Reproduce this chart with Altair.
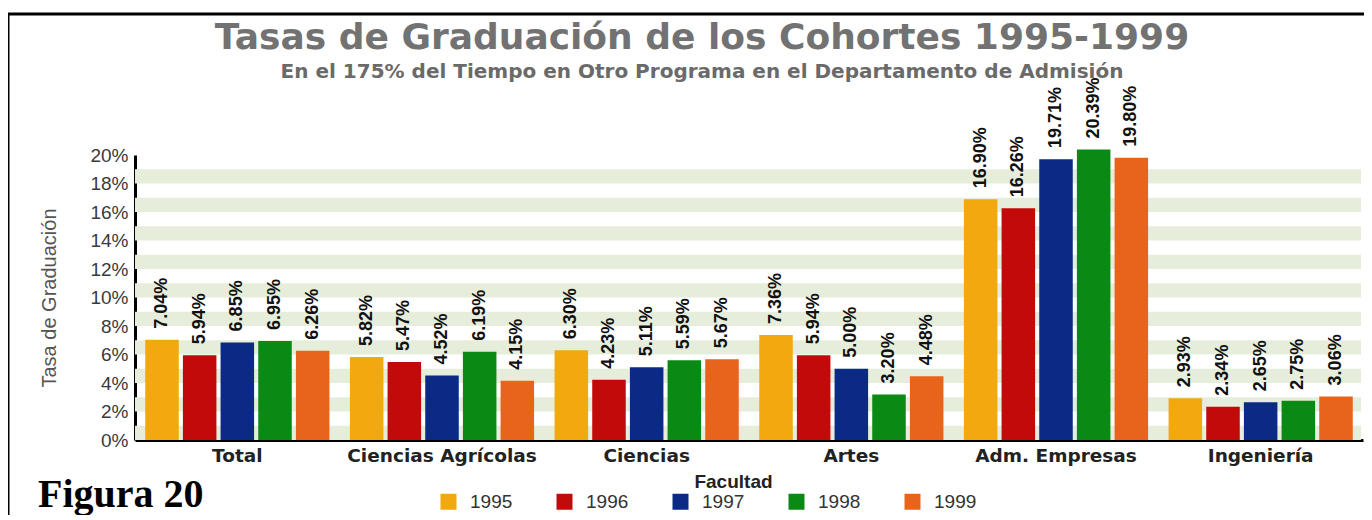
import altair as alt
import pandas as pd

# ---- data ----
facultades = ["Total", "Ciencias Agrícolas", "Ciencias", "Artes", "Adm. Empresas", "Ingeniería"]
years = ["1995", "1996", "1997", "1998", "1999"]
tasa_1995 = [7.04, 5.82, 6.30, 7.36, 16.90, 2.93]
tasa_1996 = [5.94, 5.47, 4.23, 5.94, 16.26, 2.34]
tasa_1997 = [6.85, 4.52, 5.11, 5.00, 19.71, 2.65]
tasa_1998 = [6.95, 6.19, 5.59, 3.20, 20.39, 2.75]
tasa_1999 = [6.26, 4.15, 5.67, 4.48, 19.80, 3.06]
year_colors = ["#f2a80f", "#c30a0a", "#0a2a85", "#0a8a14", "#e8641a"]
y_ticks = [0, 2, 4, 6, 8, 10, 12, 14, 16, 18, 20]
band_starts = [0, 2, 4, 6, 8, 10, 12, 14, 16, 18]

title_text = "Tasas de Graduación de los Cohortes 1995-1999"
subtitle_text = "En el 175% del Tiempo en Otro Programa en el Departamento de Admisión"
figure_text = "Figura 20"

series = [tasa_1995, tasa_1996, tasa_1997, tasa_1998, tasa_1999]
rows = []
for yr, vals in zip(years, series):
    for fac, v in zip(facultades, vals):
        rows.append({"Facultad": fac, "Año": yr, "Tasa": v})
df = pd.DataFrame(rows)
bands_df = pd.DataFrame({"Tasa": band_starts, "hi": [b + 1 for b in band_starts]})
one = pd.DataFrame({"k": [0]})

W, H = 1228, 285

yscale = alt.Scale(domain=[0, 20], nice=False)
yaxis = alt.Axis(
    values=y_ticks, labelExpr="datum.value + '%'", grid=False, ticks=False,
    domainColor="black", domainWidth=3, labelFont="Liberation Sans", labelFontSize=19,
    labelColor="#3a3a3a", labelPadding=7, titleFont="Liberation Sans", titleFontSize=20,
    titleFontWeight="normal", titleColor="#555555", titlePadding=30,
)
Y = alt.Y("Tasa:Q", scale=yscale, axis=yaxis, title="Tasa de Graduación")

xaxis = alt.Axis(
    labelAngle=0, ticks=False, domainColor="black", domainWidth=3, labelLimit=400,
    labelFont="DejaVu Sans", labelFontSize=18.5, labelFontWeight="bold", labelColor="#222222",
    labelPadding=6, titleFont="Liberation Sans", titleFontSize=19, titleFontWeight="bold",
    titleColor="#222222", titlePadding=8, titleX=598,
)
X = alt.X("Facultad:N", sort=facultades, scale=alt.Scale(paddingInner=0.1, paddingOuter=0.05),
          axis=xaxis, title="Facultad")
XO = alt.XOffset("Año:N", sort=years, scale=alt.Scale(paddingInner=0.11))

bands = alt.Chart(bands_df).mark_rect(color="#e6eedb").encode(
    y=Y, y2="hi:Q", x=alt.value(0), x2=alt.value(W - 2)
)

bars = alt.Chart(df).mark_bar().encode(
    x=X, xOffset=XO, y=Y,
    color=alt.Color("Año:N", scale=alt.Scale(domain=years, range=year_colors),
                    legend=alt.Legend(orient="none", legendX=304, legendY=337,
                                      direction="horizontal", title=None,
                                      symbolType="square", symbolSize=256,
                                      symbolStrokeWidth=0, labelFont="Liberation Sans",
                                      labelFontSize=19, labelColor="#333333",
                                      labelOffset=12, columnPadding=42)),
)

labels = alt.Chart(df).transform_calculate(
    label="format(datum.Tasa, '.2f') + '%'"
).mark_text(angle=270, align="left", baseline="middle", dx=11,
            font="Liberation Sans", fontSize=18, fontWeight="bold", color="#111111").encode(
    x=X, xOffset=XO, y=Y, text="label:N"
)

frame = alt.Chart(one).mark_rect(filled=False, stroke="black", strokeWidth=3).encode(
    x=alt.value(-127), x2=alt.value(W + 60), y=alt.value(-141), y2=alt.value(H + 160)
)

title = alt.Chart(one).mark_text(font="DejaVu Sans", fontSize=36, fontWeight="bold",
                                 color="#727272", align="center", baseline="alphabetic").encode(
    x=alt.value(567), y=alt.value(-106), text=alt.value(title_text)
)
subtitle = alt.Chart(one).mark_text(font="DejaVu Sans", fontSize=20, fontWeight="bold",
                                    color="#6a6a6a", align="center", baseline="alphabetic").encode(
    x=alt.value(567), y=alt.value(-77), text=alt.value(subtitle_text)
)
figura = alt.Chart(one).mark_text(font="Liberation Serif", fontSize=40, fontWeight="bold",
                                  color="black", align="left", baseline="alphabetic").encode(
    x=alt.value(-97), y=alt.value(352), text=alt.value(figure_text)
)

chart = alt.layer(bands, bars, labels, frame, title, subtitle, figura).properties(
    width=W, height=H,
    autosize=alt.AutoSizeParams(type="none"),
    padding={"left": 127, "top": 147, "right": 1, "bottom": 75},
    background="white",
).configure_view(stroke="transparent")

chart.save("out.html", embed_options={"renderer": "svg", "actions": False})
